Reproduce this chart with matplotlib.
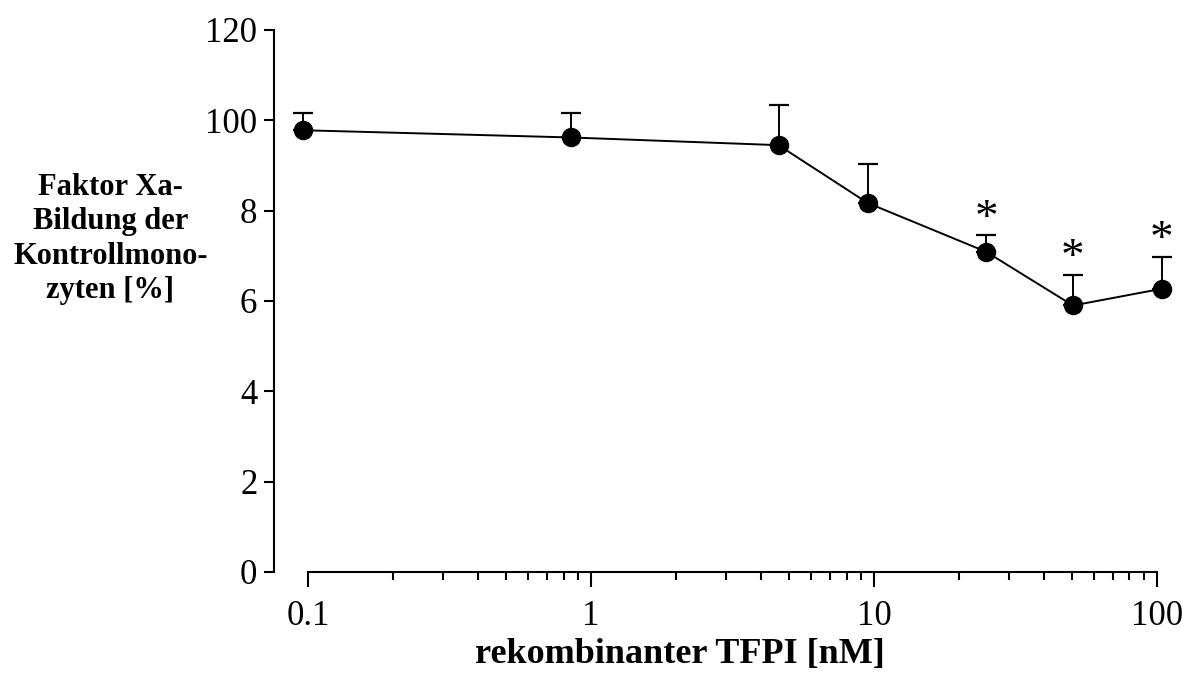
import numpy as np
import matplotlib
matplotlib.use("Agg")
import matplotlib.pyplot as plt
from matplotlib.ticker import FixedLocator, NullFormatter

plt.rcParams['font.family'] = ['Liberation Serif', 'DejaVu Serif']

## Werte
tfpi_nM = [0.096, 0.85, 4.6, 9.5, 24.9, 50.5, 104]
xa_bildung = [97.8, 96.2, 94.5, 81.7, 70.9, 59.0, 62.7]
sd_oben = [3.9, 5.5, 8.8, 8.6, 3.7, 6.8, 7.1]
signifikant = [False, False, False, False, True, True, True]

ytick_werte = [0, 20, 40, 60, 80, 100, 120]
ytick_labels = ['0', '2', '4', '6', '8', '100', '120']
xtick_werte = [0.1, 1, 10, 100]
xtick_labels = ['0.1', '1', '10', '100']

fig = plt.figure(figsize=(12, 6.75), dpi=100)
ax = fig.add_axes([0.2283, 0.1526, 0.7358, 0.803])

eb = ax.errorbar(tfpi_nM, xa_bildung, yerr=[np.zeros(len(sd_oben)), sd_oben],
                 fmt='o-', color='black', ms=13, lw=1.4, elinewidth=1.4,
                 capsize=7, capthick=1.6, zorder=3)
for art in eb.lines[1] + eb.lines[2] + (eb.lines[0],):
    art.set_clip_on(False)

for x, y, e, s in zip(tfpi_nM, xa_bildung, sd_oben, signifikant):
    if s:
        ax.annotate('*', (x, y + e), xytext=(0, -4), textcoords='offset points',
                    ha='center', va='bottom', fontsize=34, annotation_clip=False)

ax.set_xscale('log')
ax.set_xlim(0.0758, 100)
ax.set_ylim(0, 120)

ax.spines['top'].set_visible(False)
ax.spines['right'].set_visible(False)
ax.spines['bottom'].set_bounds(0.1, 100)
ax.spines['left'].set_linewidth(1.5)
ax.spines['bottom'].set_linewidth(1.5)

# Nebenstriche nur zwischen 0.1 und 100
minor = [m * 10.0**d for d in (-1, 0, 1) for m in range(2, 10)]
ax.set_xticks(xtick_werte)
ax.set_xticklabels(xtick_labels)
ax.xaxis.set_minor_locator(FixedLocator(minor))
ax.xaxis.set_minor_formatter(NullFormatter())
ax.set_yticks(ytick_werte)
ax.set_yticklabels(ytick_labels)

ax.tick_params(axis='x', which='major', direction='out', length=11, width=1.5,
               labelsize=25, pad=9)
ax.tick_params(axis='x', which='minor', direction='out', length=6, width=1.5)
ax.tick_params(axis='y', direction='out', length=7, width=1.5, labelsize=25, pad=5)

fig.text(680 / 1200, 1 - 655 / 675, 'rekombinanter TFPI [nM]',
         ha='center', va='center', fontsize=26, fontweight='bold')
fig.text(0.092, 0.646, 'Faktor Xa-\nBildung der\nKontrollmono-\nzyten [%]',
         ha='center', va='center', fontsize=22, fontweight='bold', linespacing=1.25)

fig.savefig('out.png', dpi=100)
